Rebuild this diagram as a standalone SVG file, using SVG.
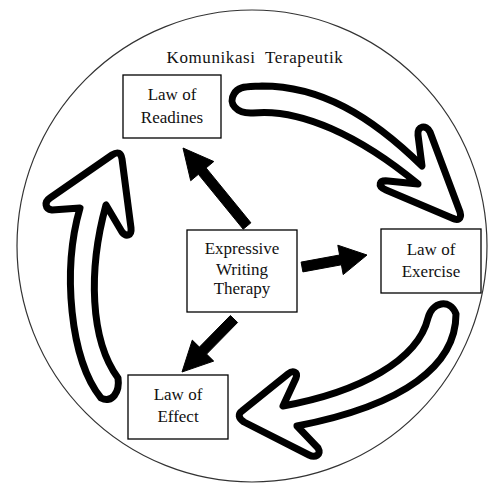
<svg xmlns="http://www.w3.org/2000/svg" width="489" height="484" viewBox="0 0 489 484">
<style>
.box{fill:#fff;stroke:#000;stroke-width:1.3}
text{font-family:'Liberation Serif', 'DejaVu Serif', serif;font-size:17px;fill:#111;text-anchor:middle}
.curve{fill:#fff;stroke:#000;stroke-width:7;stroke-linejoin:round;stroke-linecap:round}
.solid{fill:#000;stroke:#000;stroke-width:1;stroke-linejoin:round}
</style>
<rect width="489" height="484" fill="#fff"/>
<g id="boundary">
<ellipse cx="252" cy="246" rx="235" ry="236" fill="none" stroke="#333" stroke-width="1.2"/>
<text x="255" y="63" font-family="Liberation Serif, serif" font-size="16.5" letter-spacing="0.6">Komunikasi&#160; Terapeutik</text>
</g>
<g id="connectors">
<path class="curve" d="M253,113 C236,114 228,103 234,94 C238,86 246,87 262,86 C320,86 370,115 422,166 L418,135 C417,126 426,124 430,132 L460,212 C462,219 458,221 452,218 L386,190 C377,186 379,180 388,181 L418,184 C360,136 300,108 253,113 Z"/>
<path class="curve" d="M428,318 C432,302 450,298 456,314 C456,365 405,405 297,426 L318,448 C322,455 315,458 309,455 L244,422 C238,418 238,414 242,411 L288,374 C293,370 298,372 296,378 L283,406 C360,392 418,360 428,318 Z"/>
<path class="curve" d="M118,378 C120,392 112,404 101,398 C70,360 62,270 80,208 L52,210 C45,209 44,202 50,198 L112,155 C118,151 121,153 122,159 L131,228 C132,236 126,237 122,232 L106,205 C88,270 90,340 118,378 Z"/>
<path class="solid" d="M250.9,222.8 L206.1,167.9 L213.8,161.5 L183,148 L190.7,180.7 L198.4,174.3 L243.2,229.2 Z"/>
<path class="solid" d="M301.1,262.1 L339.6,255 L337.8,245.2 L367,255 L343.2,274.6 L341.4,264.8 L302.9,271.9 Z"/>
<path class="solid" d="M237.6,322.5 L206.6,354.1 L213.7,361.1 L182,372 L192.3,340.1 L199.4,347.1 L230.4,315.5 Z"/>
</g>
<g id="readines">
<rect class="box" x="123" y="75" width="98" height="63"/>
<text x="172" y="100" font-family="Liberation Serif, serif">Law of</text>
<text x="172" y="123" font-family="Liberation Serif, serif">Readines</text>
</g>
<g id="expressive">
<rect class="box" x="187" y="230" width="110" height="82"/>
<text x="242" y="254" font-family="Liberation Serif, serif">Expressive</text>
<text x="242" y="275" font-family="Liberation Serif, serif">Writing</text>
<text x="242" y="294" font-family="Liberation Serif, serif">Therapy</text>
</g>
<g id="exercise">
<rect class="box" x="381" y="229" width="100" height="64"/>
<text x="431" y="255" font-family="Liberation Serif, serif">Law of</text>
<text x="431" y="277" font-family="Liberation Serif, serif">Exercise</text>
</g>
<g id="effect">
<rect class="box" x="128" y="375" width="100" height="64"/>
<text x="178" y="400" font-family="Liberation Serif, serif">Law of</text>
<text x="178" y="422" font-family="Liberation Serif, serif">Effect</text>
</g>
</svg>
